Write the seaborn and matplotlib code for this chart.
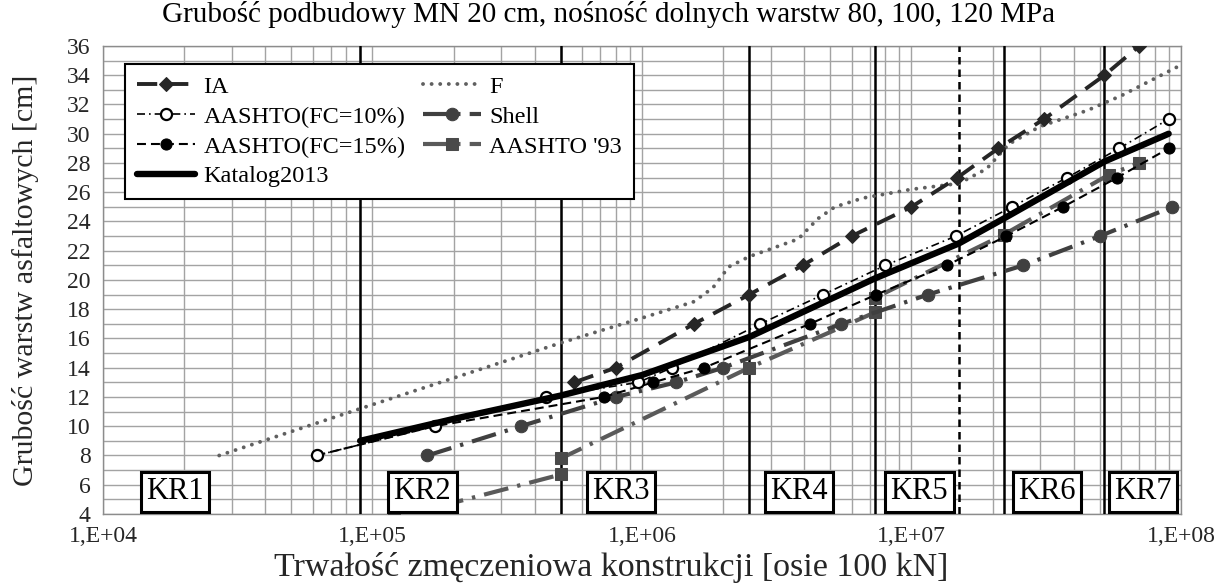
import numpy as np
import pandas as pd
import matplotlib
matplotlib.use("Agg")
import matplotlib.pyplot as plt
import seaborn as sns
from matplotlib.ticker import FixedLocator, MultipleLocator, LogLocator, NullFormatter, FixedFormatter
from matplotlib.transforms import blended_transform_factory

# ---------------- data ----------------
title = "Grubość podbudowy MN 20 cm, nośność dolnych warstw 80, 100, 120 MPa"
x_label = "Trwałość zmęczeniowa konstrukcji [osie 100 kN]"
y_label = "Grubość warstw asfaltowych [cm]"

xtick_values = [1e4, 1e5, 1e6, 1e7, 1e8]
xtick_labels = ["1,E+04", "1,E+05", "1,E+06", "1,E+07", "1,E+08"]
ytick_values = list(range(4, 37, 2))

ia_x = [5.6e5, 8.0e5, 1.56e6, 2.5e6, 3.95e6, 6.0e6, 1.0e7, 1.48e7, 2.1e7, 3.1e7, 5.2e7, 7.0e7]
ia_y = [13, 14, 17, 19, 21, 23, 25, 27, 29, 31, 34, 36]

f_x = [2.7e4, 9.0e4, 5.0e5, 1.0e6, 1.55e6, 1.83e6, 2.1e6, 2.5e6, 3.8e6, 4.5e6, 5.2e6,
       6.6e6, 1.0e7, 1.5e7, 1.9e7, 2.3e7, 3.0e7, 4.5e7, 6.0e7, 1.0e8]
f_y = [8.0, 11.2, 15.7, 17.4, 18.5, 19.45, 20.9, 21.6, 22.8, 24.2, 25.0,
       25.6, 26.2, 26.6, 27.6, 29.3, 30.5, 31.6, 32.6, 34.7]

a10_x = [6.2e4, 1.7e5, 4.4e5, 9.7e5, 1.29e6, 2.75e6, 4.7e6, 8.0e6, 1.46e7, 2.36e7, 3.78e7, 5.9e7, 9.0e7]
a10_y = [8, 10, 12, 13, 14, 17, 19, 21, 23, 25, 27, 29, 31]

a15_x = [6.2e4, 1.7e5, 7.2e5, 1.1e6, 1.7e6, 4.2e6, 7.4e6, 1.35e7, 2.25e7, 3.65e7, 5.8e7, 9.0e7]
a15_y = [8, 10, 12, 13, 14, 17, 19, 21, 23, 25, 27, 29]

shell_x = [1.6e5, 3.55e5, 8.0e5, 1.34e6, 2.0e6, 5.5e6, 1.15e7, 2.6e7, 5.0e7, 9.3e7]
shell_y = [8, 10, 12, 13, 14, 17, 19, 21, 23, 25]

a93_x = [1.2e5, 5.0e5, 5.0e5, 2.5e6, 7.35e6, 7.35e6, 2.2e7, 5.4e7, 7.0e7]
a93_y = [3.7, 6.7, 7.8, 14.0, 17.8, 18.8, 23.1, 27.2, 28.0]

kat_x = [9.0e4, 2.0e5, 5.0e5, 1.0e6, 2.5e6, 7.3e6, 1.5e7, 2.2e7, 5.2e7, 9.0e7]
kat_y = [9.0, 10.5, 12.1, 13.5, 16.1, 20.1, 22.5, 24.2, 28.1, 30.0]

kr_bounds = [9.0e4, 5.0e5, 2.5e6, 7.3e6, 1.5e7, 2.2e7, 5.2e7]
kr_bound_dashed = [False, False, False, False, True, False, False]

kr_names = ["KR1", "KR2", "KR3", "KR4", "KR5", "KR6", "KR7"]
kr_pos = [1.85e4, 1.53e5, 8.36e5, 3.83e6, 1.07e7, 3.18e7, 7.23e7]

# ---------------- style ----------------
sns.set_style("white")
plt.rcParams['font.family'] = ['Liberation Serif', 'DejaVu Serif']
plt.rcParams['text.color'] = 'black'

fig, ax = plt.subplots(figsize=(12.17, 5.86), dpi=100)
fig.subplots_adjust(left=0.0846, right=0.9704, top=0.9215, bottom=0.1229)
ax.set_xscale('log')

def draw(x, y, label, **kw):
    df = pd.DataFrame({'x': x, 'y': y})
    sns.lineplot(data=df, x='x', y='y', ax=ax, label=label,
                 estimator=None, sort=False, **kw)

draw(f_x, f_y, "F", color='#606060', lw=2.8,
     linestyle=(0, (0.01, 2.2)), dash_capstyle='round', zorder=4)
draw(a93_x, a93_y, "AASHTO '93", color='#5a5a5a', lw=3.0,
     linestyle=(0, (6, 2.2, 0.8, 2.2)), marker='s', markersize=8,
     markerfacecolor='#4a4a4a', markeredgecolor='#4a4a4a', zorder=4)
draw(shell_x, shell_y, "Shell", color='#404040', lw=3.0,
     linestyle=(0, (6, 2.2, 0.8, 2.2)), marker='o', markersize=9,
     markerfacecolor='#404040', markeredgecolor='#404040', zorder=4)
draw(a15_x, a15_y, "AASHTO(FC=15%)", color='black', lw=1.5,
     linestyle=(0, (4.3, 2.4)), marker='o', markersize=8,
     markerfacecolor='black', markeredgecolor='black', zorder=5)
draw(a10_x, a10_y, "AASHTO(FC=10%)", color='black', lw=1.2,
     linestyle=(0, (4.8, 2.4, 1, 2.4)), marker='o', markersize=8,
     markerfacecolor='white', markeredgecolor='black', markeredgewidth=1.6, zorder=5)
draw(ia_x, ia_y, "IA", color='#262626', lw=2.8,
     linestyle=(0, (5.2, 2.8)), marker='D', markersize=7,
     markerfacecolor='#262626', markeredgecolor='#262626', zorder=5)
draw(kat_x, kat_y, "Katalog2013", color='black', lw=4.6, zorder=6)

# KR boundary lines
for xb, dsh in zip(kr_bounds, kr_bound_dashed):
    ax.axvline(xb, color='black', lw=1.8, ls=(0, (3, 2)) if dsh else '-', zorder=3)

# axes
ax.set_xlim(1e4, 1e8)
ax.set_ylim(4, 36)
ax.xaxis.set_major_locator(FixedLocator(xtick_values))
ax.xaxis.set_major_formatter(FixedFormatter(xtick_labels))
ax.xaxis.set_minor_locator(LogLocator(base=10, subs=np.arange(2, 10), numticks=20))
ax.xaxis.set_minor_formatter(NullFormatter())
ax.yaxis.set_major_locator(FixedLocator(ytick_values))
ax.yaxis.set_minor_locator(MultipleLocator(1))
ax.grid(which='both', axis='both', color='#a3a3a3', lw=1.0, zorder=0)
ax.set_axisbelow(True)
for s in ax.spines.values():
    s.set_color('#8c8c8c')
    s.set_linewidth(1.0)
ax.tick_params(which='major', direction='out', length=5, color='#8c8c8c',
               labelsize=17, pad=4)
ax.tick_params(which='minor', length=0)

ax.set_xlabel(x_label, fontsize=24.5)
ax.set_ylabel(y_label, fontsize=21.5)
ax.xaxis.label.set_verticalalignment('center')
ax.xaxis.set_label_coords((611 - 103) / 1078, -(568 - 514) / 468)
ax.yaxis.label.set_verticalalignment('center')
ax.yaxis.set_label_coords(-(103 - 26) / 1078, 0.5)

fig.text(0.5, 1 - 15 / 586, title, ha='center', va='center', fontsize=21)

# KR labels
trans = blended_transform_factory(ax.transData, ax.transAxes)
for name, xp in zip(kr_names, kr_pos):
    ax.text(xp, 0.048, name, transform=trans, ha='center', va='center', fontsize=22,
            zorder=10,
            bbox=dict(boxstyle='square,pad=0.18', facecolor='white', edgecolor='black', lw=2.2))

# legend
handles, labels = ax.get_legend_handles_labels()
order = ["IA", "AASHTO(FC=10%)", "AASHTO(FC=15%)", "Katalog2013", "F", "Shell", "AASHTO '93"]
hmap = dict(zip(labels, handles))
leg = ax.legend([hmap[k] for k in order], order, loc='upper left',
                bbox_to_anchor=(0.02, 0.962), ncol=2, fontsize=17.5,
                frameon=True, fancybox=False, framealpha=1, edgecolor='black',
                handlelength=2.4, handletextpad=0.35, columnspacing=0.7,
                labelspacing=0.32, borderpad=0.5, borderaxespad=0)
leg.get_frame().set_linewidth(1.5)
leg.set_zorder(20)

fig.savefig("out.png", dpi=100, facecolor='white')
